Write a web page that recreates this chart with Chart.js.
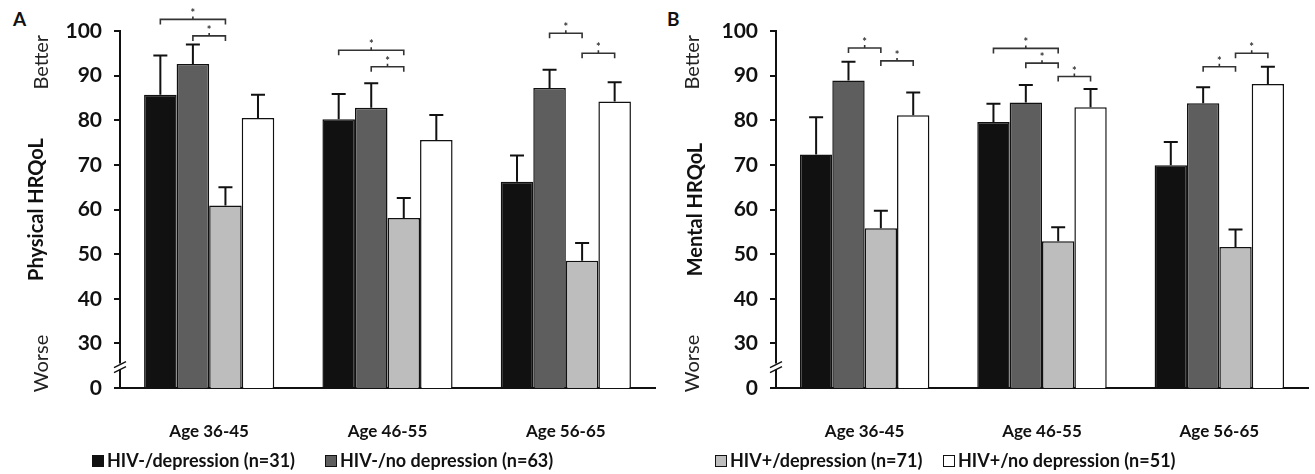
<!DOCTYPE html>
<html>
<head>
<meta charset="utf-8">
<script src="https://cdn.jsdelivr.net/npm/chart.js@4"></script>
<style>
  body { margin: 0; background: #fff; width: 1315px; height: 474px; overflow: hidden; position: relative; font-family: Lato, "Open Sans", sans-serif; }
  .panel { position: absolute; top: 0; height: 450px; }
  .letter { position: absolute; top: 7px; font-weight: bold; font-size: 19px; color: #111; }
  .leg { position: absolute; top: 449px; font-weight: bold; font-size: 18px; color: #111; white-space: nowrap; }
  .leg i { display: inline-block; width: 10px; height: 10px; border: 1px solid #111; margin-right: 3px; vertical-align: 0px; }
</style>
</head>
<body>
<div class="letter" style="left:13px">A</div>
<div class="letter" style="left:667px">B</div>
<div class="panel" style="left:0;width:660px"><canvas id="chartA"></canvas></div>
<div class="panel" style="left:660px;width:655px"><canvas id="chartB"></canvas></div>
<div id="legend"></div>
<script>
(function () {
    "use strict";

    var categories = ['Age 36-45', 'Age 46-55', 'Age 56-65'];
    var seriesNames = ['HIV-/depression (n=31)', 'HIV-/no depression (n=63)', 'HIV+/depression (n=71)', 'HIV+/no depression (n=51)'];
    var seriesColors = ['#111111', '#5e5e5e', '#bdbdbd', '#ffffff'];

    // physical HRQoL (panel A): means and error bar half-lengths
    var physHivNegDep = [85.7, 80.2, 66.2];
    var physHivNegNoDep = [92.6, 82.8, 87.2];
    var physHivPosDep = [60.9, 58.1, 48.5];
    var physHivPosNoDep = [80.5, 75.6, 84.2];
    var physErrHivNegDep = [8.8, 5.7, 5.9];
    var physErrHivNegNoDep = [4.4, 5.5, 4.1];
    var physErrHivPosDep = [4.1, 4.5, 4.0];
    var physErrHivPosNoDep = [5.2, 5.6, 4.3];
    // [category, from series, to series, level]
    var physBrackets = [[0, 0, 2, 102.6], [0, 1, 2, 98.9], [1, 0, 2, 95.7], [1, 1, 2, 92.0], [2, 1, 2, 99.5], [2, 2, 3, 95.0]];

    // mental HRQoL (panel B)
    var mentHivNegDep = [72.3, 79.6, 69.9];
    var mentHivNegNoDep = [88.9, 84.0, 83.8];
    var mentHivPosDep = [55.8, 52.9, 51.6];
    var mentHivPosNoDep = [81.1, 82.9, 88.1];
    var mentErrHivNegDep = [8.4, 4.1, 5.2];
    var mentErrHivNegNoDep = [4.2, 3.9, 3.6];
    var mentErrHivPosDep = [3.9, 3.1, 3.9];
    var mentErrHivPosNoDep = [5.1, 4.1, 3.9];
    var mentBrackets = [[0, 1, 2, 96.2], [0, 2, 3, 93.3], [1, 0, 2, 96.1], [1, 1, 2, 92.8], [1, 2, 3, 89.8], [2, 1, 2, 92.0], [2, 2, 3, 95.0]];

    // axis is broken: the bottom tick reads 0 but sits where 20 would be
    var axisBase = 20;
    var axisTop = 100;

    var extras = {
        id: 'extras',
        afterDatasetsDraw: function (chart) {
            var o = chart.options.plugins.extras;
            var ctx = chart.ctx;
            var y = chart.scales.y;
            ctx.save();
            ctx.strokeStyle = '#111';
            ctx.lineWidth = 2;
            // error bars
            o.errors.forEach(function (errs, di) {
                var meta = chart.getDatasetMeta(di);
                meta.data.forEach(function (bar, i) {
                    var v = chart.data.datasets[di].data[i];
                    var yt = y.getPixelForValue(v + errs[i]);
                    ctx.beginPath();
                    ctx.moveTo(bar.x, bar.y);
                    ctx.lineTo(bar.x, yt);
                    ctx.moveTo(bar.x - 7, yt);
                    ctx.lineTo(bar.x + 7, yt);
                    ctx.stroke();
                });
            });
            // significance brackets
            ctx.lineWidth = 1.6;
            ctx.strokeStyle = '#333';
            ctx.fillStyle = '#333';
            ctx.font = 'bold 11px Lato';
            ctx.textAlign = 'center';
            ctx.textBaseline = 'alphabetic';
            o.brackets.forEach(function (b) {
                var x1 = chart.getDatasetMeta(b[1]).data[b[0]].x;
                var x2 = chart.getDatasetMeta(b[2]).data[b[0]].x;
                var yy = y.getPixelForValue(b[3]);
                var mid = (x1 + x2) / 2;
                ctx.beginPath();
                ctx.moveTo(x1, yy + 5);
                ctx.lineTo(x1, yy);
                ctx.lineTo(x2, yy);
                ctx.lineTo(x2, yy + 5);
                ctx.moveTo(mid, yy);
                ctx.lineTo(mid, yy - 3);
                ctx.stroke();
                ctx.fillText('*', mid, yy - 2);
            });
            // axis break marks
            var ax = chart.chartArea.left;
            var yb = y.getPixelForValue(24.8);
            ctx.fillStyle = '#fff';
            ctx.fillRect(ax - 3, yb - 3, 6, 6);
            ctx.strokeStyle = '#111';
            ctx.lineWidth = 1.5;
            ctx.beginPath();
            ctx.moveTo(ax - 6, yb + 1);
            ctx.lineTo(ax + 6, yb - 5);
            ctx.moveTo(ax - 6, yb + 6);
            ctx.lineTo(ax + 6, yb);
            ctx.stroke();
            // Better / Worse
            ctx.fillStyle = '#222';
            ctx.font = '20px Lato';
            ctx.textBaseline = 'middle';
            [[o.better, 'Better'], [o.worse, 'Worse']].forEach(function (t) {
                ctx.save();
                ctx.translate(o.wordX, y.getPixelForValue(t[0]));
                ctx.rotate(-Math.PI / 2);
                ctx.fillText(t[1], 0, 0);
                ctx.restore();
            });
            ctx.restore();
        }
    };

    function makeChart(id, title, values, errors, brackets, padLeft, padRight, yWidth, wordX) {
        var ctx = document.getElementById(id).getContext('2d');
        return new Chart(ctx, {
            type: 'bar',
            data: {
                labels: categories,
                datasets: values.map(function (vals, i) {
                    return {
                        label: seriesNames[i],
                        data: vals,
                        backgroundColor: seriesColors[i],
                        borderColor: '#111',
                        borderWidth: 1.5,
                        borderSkipped: 'bottom',
                        categoryPercentage: 0.73,
                        barPercentage: 1.0
                    };
                })
            },
            options: {
                responsive: true,
                maintainAspectRatio: false,
                animation: false,
                layout: { padding: { left: padLeft, right: padRight, top: 31, bottom: 0 } },
                plugins: {
                    legend: { display: false },
                    tooltip: { enabled: false },
                    extras: { errors: errors, brackets: brackets, better: 93, worse: 25.5, wordX: wordX }
                },
                scales: {
                    x: {
                        grid: { display: true, drawOnChartArea: false, drawTicks: false },
                        border: { color: '#111', width: 2 },
                        ticks: { color: '#111', padding: 33, font: { family: 'Lato', size: 17, weight: 'bold' } },
                        afterFit: function (s) { s.height = 62; }
                    },
                    y: {
                        min: axisBase,
                        max: axisTop,
                        grid: { drawOnChartArea: false, drawTicks: true, tickLength: 6, color: '#111', lineWidth: 2 },
                        border: { color: '#111', width: 2 },
                        ticks: {
                            stepSize: 10,
                            padding: 12,
                            color: '#111',
                            font: { family: 'Lato', size: 21, weight: 'bold' },
                            callback: function (v) { return v === axisBase ? '0' : v; }
                        },
                        title: {
                            display: true,
                            text: title,
                            color: '#111',
                            padding: { top: 0, bottom: 0 },
                            font: { family: 'Lato', size: 20, weight: 'bold' }
                        },
                        afterFit: function (s) { s.width = yWidth; }
                    }
                }
            },
            plugins: [extras]
        });
    }

    makeChart('chartA', 'Physical HRQoL',
        [physHivNegDep, physHivNegNoDep, physHivPosDep, physHivPosNoDep],
        [physErrHivNegDep, physErrHivNegNoDep, physErrHivPosDep, physErrHivPosNoDep],
        physBrackets, 25, 5, 95, 42);

    makeChart('chartB', 'Mental HRQoL',
        [mentHivNegDep, mentHivNegNoDep, mentHivPosDep, mentHivPosNoDep],
        [mentErrHivNegDep, mentErrHivNegNoDep, mentErrHivPosDep, mentErrHivPosNoDep],
        mentBrackets, 24, 7, 92, 33);

    // shared legend under both panels
    var legendLeft = [92, 325, 715, 943];
    var legend = document.getElementById('legend');
    seriesNames.forEach(function (name, i) {
        var d = document.createElement('div');
        d.className = 'leg';
        d.style.left = legendLeft[i] + 'px';
        d.innerHTML = '<i style="background:' + seriesColors[i] + '"></i>' + name;
        legend.appendChild(d);
    });
})();
</script>
</body>
</html>
